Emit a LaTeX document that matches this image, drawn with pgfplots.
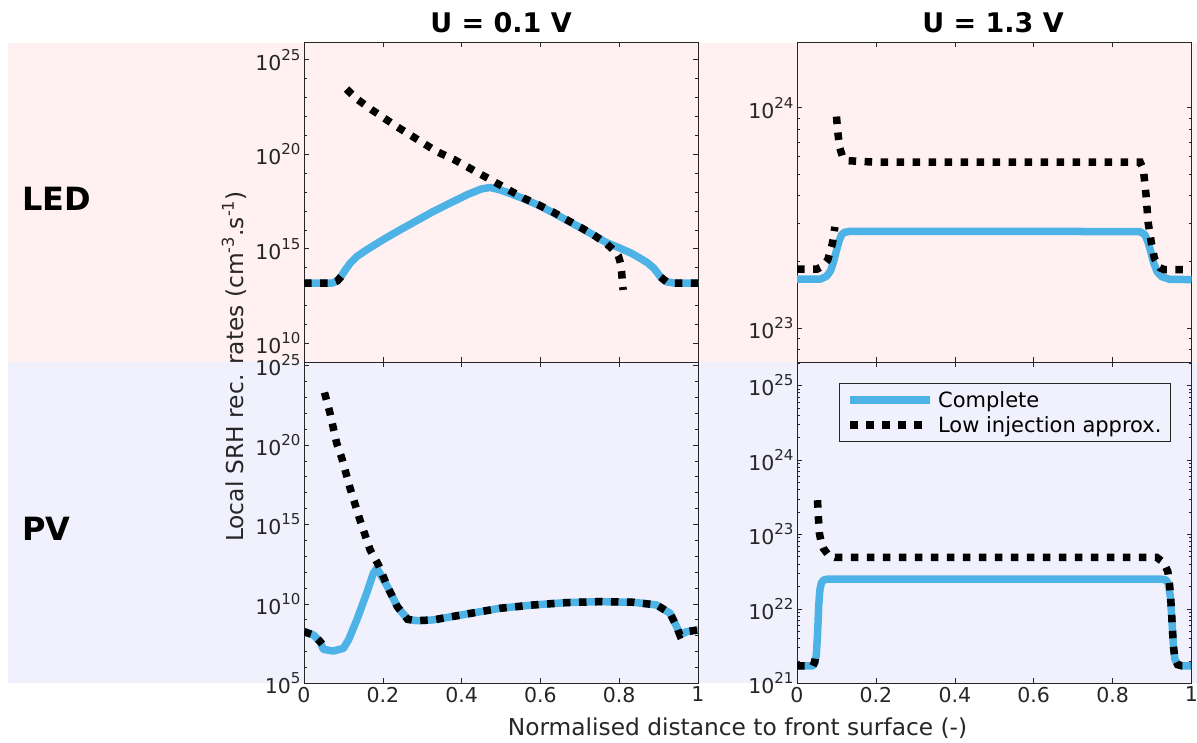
\documentclass[border=0pt]{standalone}
\usepackage{fontspec}
\setmainfont{DejaVu Sans}
\usepackage{pgfplots}
\pgfplotsset{compat=1.18}
\definecolor{axgray}{rgb}{0.15,0.15,0.15}
\definecolor{cblue}{RGB}{77,179,230}
\definecolor{bgpink}{RGB}{255,241,241}
\definecolor{bglav}{RGB}{241,241,254}
\newcommand{\tp}[1]{10\raisebox{10pt}{\fontsize{15}{15}\selectfont #1}}
\pgfplotsset{
  myax/.style={
    scale only axis,
    xmin=0,xmax=1,
    anchor=south west,
    axis line style={draw=axgray,line width=0.8pt},
    every tick/.style={axgray,line width=0.6pt},
    tick align=inside,
    tick pos=both,
    major tick length=5pt,
    minor tick length=3pt,
    xtick={0,0.2,0.4,0.6,0.8,1},
    ticklabel style={font=\fontsize{20.5}{24}\selectfont,text=axgray},
    unbounded coords=jump,
  },
  bl/.style={color=cblue,line width=7.5pt,line join=round},
  bk/.style={color=black,line width=7.5pt,dash pattern=on 7.5pt off 8.5pt,line cap=butt},
}
\begin{document}
\begin{tikzpicture}
\useasboundingbox (0,0) rectangle (1197pt,742pt);
\fill[bgpink] (8pt,379.7pt) rectangle (1197pt,699.3pt);
\fill[bglav] (8pt,58.7pt) rectangle (1197pt,379.7pt);

% ---------- LED, U = 0.1 V
\begin{semilogyaxis}[myax, at={(304pt,379.7pt)}, width=394pt, height=320.3pt,
  ymin=9.77e8, ymax=8.7e25,
  ytick={1e10,1e15,1e20,1e25}, yticklabels={\tp{10},\tp{15},\tp{20},\tp{25}},
  minor ytick={1e9,1e11,1e12,1e13,1e14,1e16,1e17,1e18,1e19,1e21,1e22,1e23,1e24},
  xticklabels={}]
\addplot[bl] coordinates {(0,1.51e13)(0.07,1.51e13)(0.08,1.78e13)(0.091,2.75e13)(0.104,7.08e13)(0.117,1.7e14)(0.135,4.0e14)(0.159,8.7e14)(0.2,2.95e15)(0.244,1.0e16)(0.328,9.33e16)(0.413,7.08e17)(0.45,1.45e18)(0.472,1.74e18)(0.497,1.32e18)(0.52,8.9e17)(0.557,4.47e17)(0.595,2.0e17)(0.633,7.94e16)(0.667,3.16e16)(0.701,1.32e16)(0.735,5.25e15)(0.768,2.09e15)(0.802,1.07e15)(0.83,5.89e14)(0.853,3.16e14)(0.872,1.78e14)(0.888,9.33e13)(0.905,3.16e13)(0.92,1.78e13)(0.94,1.51e13)(1,1.51e13)};
\addplot[bk] coordinates {(0,1.51e13)(0.07,1.51e13)(0.085,2.0e13)(0.095,3.5e13)(0.1,nan)(0.108,2.82e23)(0.12,1.58e23)(0.137,7.59e22)(0.172,2.24e22)(0.235,2.95e21)(0.337,1.38e20)(0.379,5.5e19)(0.413,2.24e19)(0.451,8.13e18)(0.485,3.31e18)(0.519,1.32e18)(0.557,4.79e17)(0.595,2.09e17)(0.633,8.51e16)(0.667,3.39e16)(0.701,1.38e16)(0.735,5.37e15)(0.768,1.82e15)(0.79,7.0e14)(0.798,4.17e14)(0.803,1.8e14)(0.806,6.17e13)(0.809,1.0e13)(0.81,6.6e12)(0.85,nan)(0.905,3.16e13)(0.92,1.78e13)(0.94,1.51e13)(1,1.51e13)};
\end{semilogyaxis}

% ---------- LED, U = 1.3 V
\begin{semilogyaxis}[myax, at={(797pt,379.7pt)}, width=394.5pt, height=320.3pt,
  ymin=7.0e22, ymax=1.99e24,
  ytick={1e23,1e24}, yticklabels={\tp{23},\tp{24}},
  minor ytick={8e22,9e22,2e23,3e23,4e23,5e23,6e23,7e23,8e23,9e23},
  xticklabels={}]
\addplot[bl] coordinates {(0,1.67e23)(0.06,1.67e23)(0.075,1.72e23)(0.085,1.82e23)(0.092,1.98e23)(0.1,2.25e23)(0.107,2.5e23)(0.113,2.65e23)(0.12,2.72e23)(0.135,2.75e23)(0.5,2.75e23)(0.87,2.74e23)(0.882,2.65e23)(0.889,2.48e23)(0.896,2.25e23)(0.904,1.98e23)(0.913,1.8e23)(0.925,1.71e23)(0.945,1.665e23)(1,1.66e23)};
\addplot[bk] coordinates {(0,1.85e23)(0.05,1.85e23)(0.065,1.91e23)(0.078,2.04e23)(0.09,2.43e23)(0.096,2.88e23)(0.098,nan)(0.1,9.12e23)(0.104,7.59e23)(0.108,6.61e23)(0.115,6.03e23)(0.13,5.75e23)(0.2,5.66e23)(0.87,5.66e23)(0.878,5.25e23)(0.885,3.98e23)(0.89,3.02e23)(0.898,2.45e23)(0.906,2.07e23)(0.92,1.88e23)(0.931,1.84e23)(1,1.84e23)};
\end{semilogyaxis}

% ---------- PV, U = 0.1 V
\begin{semilogyaxis}[myax, at={(304pt,58.7pt)}, width=394pt, height=321pt,
  ymin=1e5, ymax=1.6e25,
  ytick={1e5,1e10,1e15,1e20,1e25}, yticklabels={\tp{5},\tp{10},\tp{15},\tp{20},\tp{25}},
  minor ytick={1e6,1e7,1e8,1e9,1e11,1e12,1e13,1e14,1e16,1e17,1e18,1e19,1e21,1e22,1e23,1e24},
  xticklabels={0,0.2,0.4,0.6,0.8,1}]
\addplot[bl] coordinates {(0,1.78e8)(0.024,1.10e8)(0.041,4.17e7)(0.049,1.38e7)(0.074,1.07e7)(0.1,1.58e7)(0.113,5.37e7)(0.134,9.77e8)(0.159,4.68e10)(0.176,8.51e11)(0.185,1.74e12)(0.212,1.20e11)(0.237,6.61e9)(0.263,1.07e9)(0.286,8.71e8)(0.328,9.77e8)(0.413,2.29e9)(0.497,5.25e9)(0.582,8.51e9)(0.666,1.20e10)(0.751,1.38e10)(0.836,1.26e10)(0.895,8.51e9)(0.929,2.57e9)(0.946,3.63e8)(0.954,1.10e8)(0.971,1.78e8)(1,2.29e8)};
\addplot[bk] coordinates {(0,1.78e8)(0.024,1.10e8)(0.041,4.17e7)(0.046,3.0e7)(0.05,nan)(0.052,2.0e23)(0.066,1.0e22)(0.083,1.29e20)(0.096,1.48e19)(0.117,1.9e17)(0.142,1.9e15)(0.168,2.45e13)(0.189,2.82e12)(0.212,1.20e11)(0.237,6.61e9)(0.263,1.07e9)(0.286,8.71e8)(0.328,9.77e8)(0.413,2.29e9)(0.497,5.25e9)(0.582,8.51e9)(0.666,1.20e10)(0.751,1.38e10)(0.836,1.26e10)(0.895,8.51e9)(0.929,2.57e9)(0.946,3.63e8)(0.954,1.10e8)(0.971,1.78e8)(1,2.29e8)};
\end{semilogyaxis}

% ---------- PV, U = 1.3 V
\begin{semilogyaxis}[myax, at={(797pt,58.7pt)}, width=394.5pt, height=321pt,
  ymin=1e21, ymax=2.05e25,
  ytick={1e21,1e22,1e23,1e24,1e25}, yticklabels={\tp{21},\tp{22},\tp{23},\tp{24},\tp{25}},
  minor ytick={2e21,3e21,4e21,5e21,6e21,7e21,8e21,9e21,2e22,3e22,4e22,5e22,6e22,7e22,8e22,9e22,2e23,3e23,4e23,5e23,6e23,7e23,8e23,9e23,2e24,3e24,4e24,5e24,6e24,7e24,8e24,9e24,2e25},
  xticklabels={0,0.2,0.4,0.6,0.8,1},
  legend style={at={(0.107,0.935)}, anchor=north west, draw=axgray, line width=0.8pt, fill=none,
    font=\fontsize{21}{25}\selectfont, text=black, inner xsep=7pt, inner ysep=5.5pt, row sep=4pt,
    column sep=2pt, cells={anchor=west}},
  legend image code/.code={\draw[#1] (0pt,0pt) -- (80pt,0pt);}]
\addplot[bl] coordinates {(0,1.71e21)(0.04,1.71e21)(0.045,1.85e21)(0.049,2.4e21)(0.052,4.5e21)(0.055,1.1e22)(0.058,1.8e22)(0.062,2.25e22)(0.068,2.45e22)(0.08,2.51e22)(0.92,2.51e22)(0.935,2.45e22)(0.941,2.2e22)(0.946,1.5e22)(0.95,7.76e21)(0.954,3.2e21)(0.958,2.1e21)(0.965,1.78e21)(0.975,1.72e21)(1,1.71e21)};
\addlegendentry{Complete}
\addplot[bk] coordinates {(0,1.71e21)(0.04,1.71e21)(0.045,1.95e21)(0.048,2.6e21)(0.05,nan)(0.052,2.88e23)(0.054,1.74e23)(0.057,1.02e23)(0.062,7.5e22)(0.067,6.46e22)(0.08,5.25e22)(0.096,4.9e22)(0.912,4.9e22)(0.93,4.17e22)(0.94,3.16e22)(0.944,2.2e22)(0.947,1.5e22)(0.95,7.76e21)(0.954,3.2e21)(0.958,2.1e21)(0.965,1.78e21)(0.975,1.72e21)(1,1.71e21)};
\addlegendentry{Low injection approx.}
\end{semilogyaxis}

% ---------- texts
\node[anchor=base, inner sep=0, font=\fontsize{27}{30}\selectfont\bfseries] at (501pt,709pt) {U = 0.1 V};
\node[anchor=base, inner sep=0, font=\fontsize{27}{30}\selectfont\bfseries] at (993pt,709pt) {U = 1.3 V};
\node[anchor=base west, inner sep=0, font=\fontsize{32}{34}\selectfont\bfseries] at (22pt,531pt) {LED};
\node[anchor=base west, inner sep=0, font=\fontsize{32}{34}\selectfont\bfseries] at (22pt,201pt) {PV};
\node[rotate=90, anchor=base, inner sep=0, font=\fontsize{23.3}{25}\selectfont, text=axgray] at (243pt,375.5pt) {Local SRH rec. rates (cm\textsuperscript{-3}.s\textsuperscript{-1})};
\node[anchor=base, inner sep=0, font=\fontsize{23.3}{25}\selectfont, text=axgray] at (737.5pt,7pt) {Normalised distance to front surface (-)};
\end{tikzpicture}
\end{document}
